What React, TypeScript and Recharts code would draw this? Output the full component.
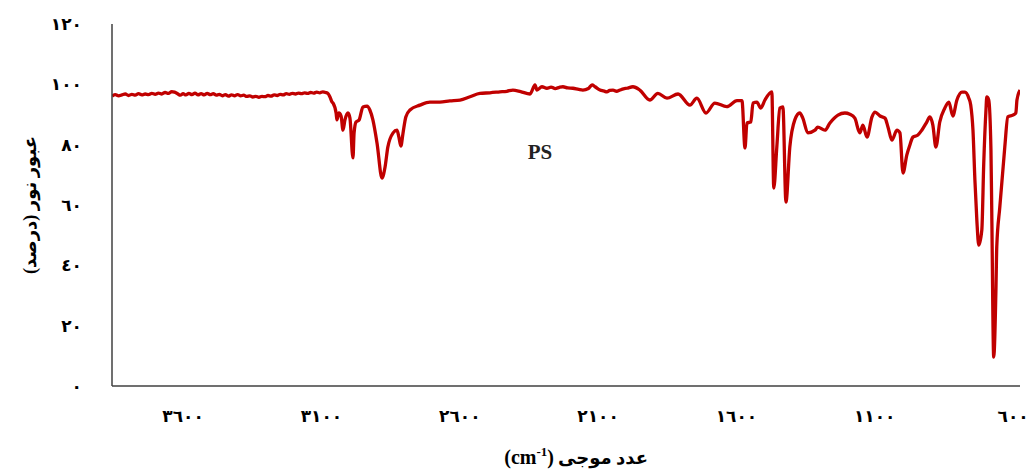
import React from 'react';
import { LineChart, Line, XAxis, YAxis, ReferenceDot } from 'recharts';

// Wavenumber (cm-1), descending (left to right on reversed axis)
const wavenumbers: number[] = [
  3857, 3845, 3833, 3821, 3809, 3797, 3785, 3773, 3761, 3749, 3737, 3725, 3713, 3701, 3689, 3677,
  3665, 3653, 3641, 3631, 3620, 3610, 3600, 3590, 3579, 3568, 3557, 3546, 3535, 3524, 3513, 3502,
  3491, 3480, 3469, 3458, 3447, 3436, 3425, 3414, 3403, 3392, 3381, 3370, 3359, 3348, 3337, 3326,
  3315, 3304, 3293, 3282, 3271, 3260, 3249, 3238, 3227, 3216, 3205, 3194, 3183, 3172, 3161, 3150,
  3139, 3128, 3117, 3106, 3095, 3085, 3076, 3070,
  3062, 3058, 3047, 3044, 3037, 3029, 3022, 3015, 3004, 2997, 2986, 2982, 2975, 2964, 2950, 2935,
  2925, 2914, 2899, 2881, 2870, 2860, 2841, 2827, 2820, 2813, 2805, 2795, 2780, 2744, 2708, 2672,
  2636, 2599, 2563, 2527, 2491, 2455, 2430, 2408, 2380, 2346, 2328, 2321, 2303, 2285, 2270, 2255,
  2240, 2227, 2210, 2191, 2170, 2155, 2135, 2122, 2111, 2093, 2080, 2068, 2058, 2046, 2033, 2021,
  2008, 1996, 1974, 1949, 1913, 1884,
  1851, 1811, 1768, 1743, 1710, 1678, 1635, 1598, 1580, 1569, 1562, 1548, 1540, 1526, 1512, 1497,
  1472, 1465, 1454, 1443, 1432, 1421, 1407, 1389, 1371, 1360, 1342, 1316, 1306, 1280, 1262, 1233,
  1208, 1190, 1172, 1154, 1143, 1128, 1110, 1099, 1081, 1063, 1052, 1038, 1020, 1009, 998, 984,
  973, 962, 944, 930, 912, 901, 890, 879, 865, 847, 832, 818, 803, 785, 774, 760,
  753, 745, 738, 731, 724, 713, 706, 698, 695, 688, 680, 677, 670, 662, 659, 648,
  630, 619, 601, 590, 586, 575,
];

// Transmittance (%)
const transmittance: number[] = [
  96.1, 96.6, 96.2, 96.5, 96.8, 96.3, 96.7, 96.4, 96.9, 96.5, 96.8, 96.6, 97.0, 96.7, 97.1, 96.8,
  97.3, 97.0, 97.6, 97.4, 96.9, 96.4, 96.9, 96.5, 97.0, 96.6, 97.1, 96.5, 96.9, 96.5, 97.0, 96.6,
  96.9, 96.4, 96.7, 96.2, 96.6, 96.1, 96.5, 96.2, 96.6, 96.2, 96.4, 96.0, 96.2, 95.8, 96.0, 95.7,
  96.0, 95.9, 96.3, 96.1, 96.5, 96.3, 96.7, 96.5, 96.9, 96.7, 97.0, 96.8, 97.1, 96.9, 97.2, 97.0,
  97.3, 97.1, 97.4, 97.2, 97.5, 97.3, 96.9, 96.0,
  94.2, 93.8, 90.5, 88.2, 90.5, 89.5, 84.8, 88.2, 90.5, 88.8, 75.6, 83.8, 87.5, 88.2, 92.5, 92.8,
  91.5, 88.2, 80.5, 68.9, 72.6, 79.2, 83.9, 84.8, 82.5, 79.5, 83.9, 89.2, 91.5, 93.1, 94.1, 94.1,
  94.5, 94.8, 95.9, 97.0, 97.2, 97.5, 97.7, 98.1, 97.6, 96.8, 99.8, 98.1, 99.2, 98.7, 99.1, 98.6,
  99.0, 99.2, 98.8, 98.7, 98.3, 98.1, 98.6, 99.8, 99.2, 98.1, 97.8, 97.5, 98.0, 98.1, 97.7, 98.1,
  98.5, 98.7, 99.2, 98.1, 94.8, 97.0,
  95.4, 96.8, 93.1, 95.4, 90.5, 93.8, 92.6, 94.6, 94.6, 78.9, 87.2, 87.5, 93.8, 94.1, 92.1, 94.8,
  97.5, 65.6, 79.2, 92.1, 92.5, 61.0, 79.2, 88.2, 90.5, 88.8, 83.9, 84.8, 85.8, 84.8, 87.2, 89.8,
  90.5, 90.1, 88.8, 83.9, 86.5, 82.5, 89.2, 90.8, 89.5, 88.8, 85.8, 81.5, 84.8, 83.9, 70.6, 76.6,
  79.9, 82.5, 83.2, 84.8, 87.5, 89.2, 86.5, 79.2, 87.5, 92.1, 94.1, 89.5, 94.8, 97.4, 97.4, 95.4,
  93.1, 84.8, 68.3, 55.0, 46.7, 51.7, 73.9, 91.5, 95.8, 94.8, 78.2, 57.3, 9.6, 31.8, 46.1, 59.3,
  79.2, 89.2, 89.8, 90.5, 94.8, 98.1,
];

const xTicks: number[] = [3600, 3100, 2600, 2100, 1600, 1100, 600];
const yTicks: number[] = [0, 20, 40, 60, 80, 100, 120];

const yAxisTitle = 'عبور نور (درصد)';
const xAxisTitleFa = 'عدد موجی';
const seriesName = 'PS';

const data = wavenumbers.map((w, i) => ({ w, t: transmittance[i] }));

const toArabicDigits = (n: number): string =>
  String(n).replace(/[0-9]/g, (d) => '٠١٢٣٤٥٦٧٨٩'[Number(d)]);

const FONT = '"Liberation Serif", "DejaVu Serif", "DejaVu Sans", serif';

const XTitle = (props: any) => {
  const vb = props.viewBox || {};
  const cx = vb.x + vb.width / 2;
  const y = vb.y + 78;
  return (
    <g>
      <text x={cx - 12} y={y} textAnchor="end" fontFamily={FONT} fontWeight="bold" fontSize={20} fill="#000">
        (cm<tspan dy={-8} fontSize={13}>-1</tspan><tspan dy={8}>)</tspan>
      </text>
      <text x={cx - 8} y={y} textAnchor="start" fontFamily={FONT} fontWeight="bold" fontSize={18} fill="#000">
        {xAxisTitleFa}
      </text>
    </g>
  );
};

const YTitle = (props: any) => {
  const vb = props.viewBox || {};
  const cy = vb.y + vb.height / 2;
  const x = 30;
  return (
    <text
      x={x}
      y={cy}
      transform={`rotate(-90, ${x}, ${cy})`}
      textAnchor="middle"
      dominantBaseline="central"
      fontFamily={FONT}
      fontWeight="bold"
      fontSize={18}
      fill="#000"
    >
      {yAxisTitle}
    </text>
  );
};

export default function App() {
  return (
    <div style={{ position: 'absolute', left: 0, top: 0, width: 1035, height: 474, background: '#fff' }}>
      <LineChart width={1035} height={474} data={data} margin={{ top: 24, right: 15, bottom: 0, left: 0 }}>
        <XAxis
          dataKey="w"
          type="number"
          domain={[575, 3857]}
          reversed
          ticks={xTicks}
          allowDataOverflow
          height={88}
          tickLine={false}
          tickMargin={18}
          axisLine={{ stroke: '#404040', strokeWidth: 1.5 }}
          tickFormatter={toArabicDigits}
          tick={{ fontFamily: FONT, fontWeight: 'bold', fontSize: 17, fill: '#000' }}
          label={<XTitle />}
        />
        <YAxis
          type="number"
          domain={[0, 120]}
          ticks={yTicks}
          width={112}
          tickLine={false}
          tickMargin={24}
          axisLine={{ stroke: '#404040', strokeWidth: 1.5 }}
          tickFormatter={toArabicDigits}
          tick={{ fontFamily: FONT, fontWeight: 'bold', fontSize: 17, fill: '#000' }}
          label={<YTitle />}
        />
        <Line
          type="monotone"
          dataKey="t"
          stroke="#C00000"
          strokeWidth={3.3}
          dot={false}
          isAnimationActive={false}
        />
        <ReferenceDot
          x={2310}
          y={77.6}
          r={0}
          fill="none"
          stroke="none"
          label={{ value: seriesName, position: 'center', fontFamily: FONT, fontWeight: 'bold', fontSize: 21, fill: '#222' }}
        />
      </LineChart>
    </div>
  );
}
